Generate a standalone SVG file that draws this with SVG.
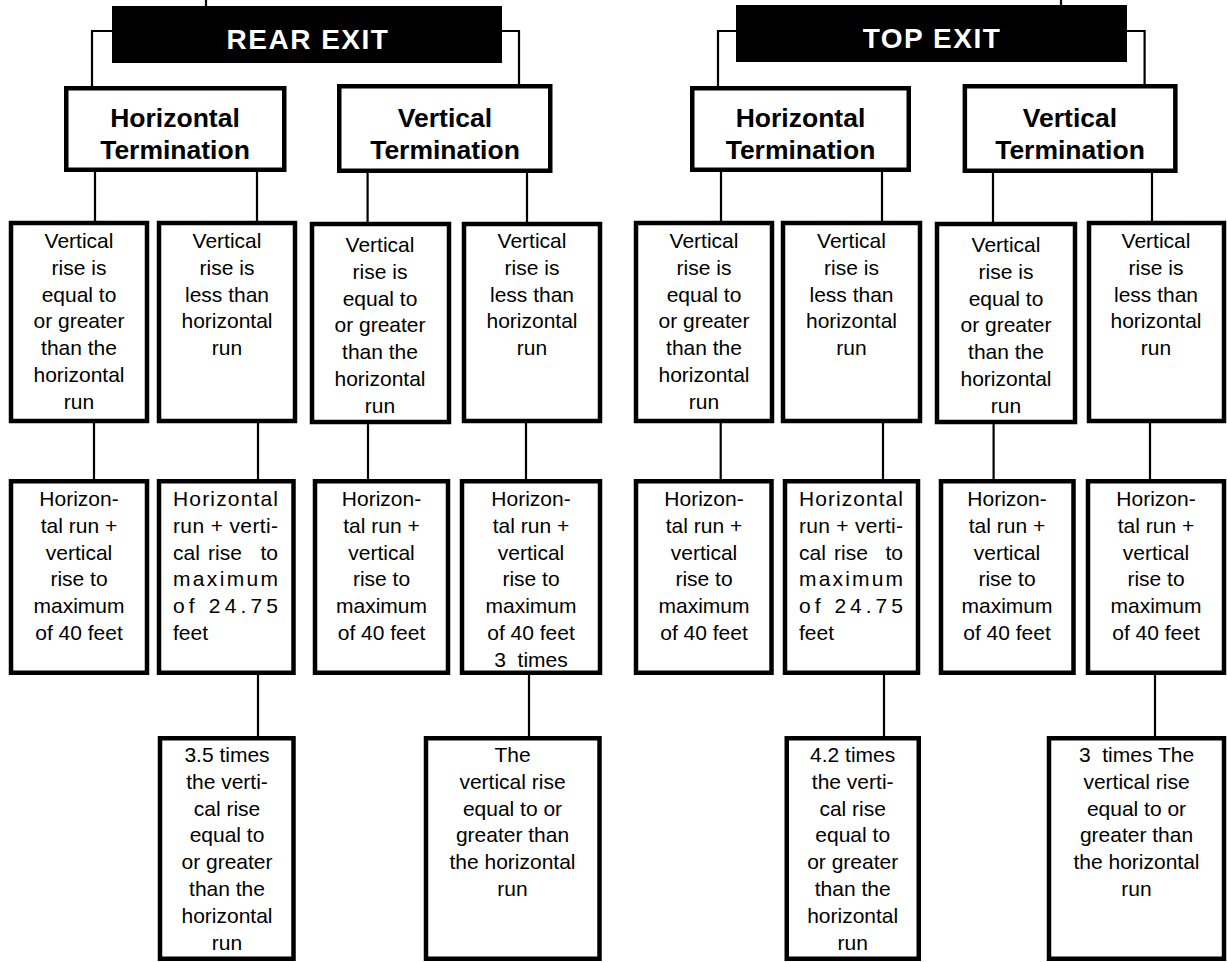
<svg xmlns="http://www.w3.org/2000/svg" width="1227" height="962" viewBox="0 0 1227 962">
<style>
.box{fill:#fff;stroke:#000;stroke-width:4.5}
.hdr{fill:#000}
.conn{stroke:#000;stroke-width:2.2;fill:none}
.t{font-family:"Liberation Sans",Arial,sans-serif;font-size:21px;text-anchor:middle;fill:#000}
.j{font-family:"Liberation Sans",Arial,sans-serif;font-size:21px;text-anchor:start;fill:#000}
.e{font-family:"Liberation Sans",Arial,sans-serif;font-size:21px;text-anchor:end;fill:#000}
.tt{font-family:"Liberation Sans",Arial,sans-serif;font-size:26.5px;font-weight:bold;text-anchor:middle;fill:#000}
.ht{font-family:"Liberation Sans",Arial,sans-serif;font-size:28px;font-weight:bold;text-anchor:middle;fill:#fff;letter-spacing:1.5px}
</style>
<rect width="1227" height="962" fill="#fff"/>
<g id="connectors">
<path class="conn" d="M206,0V7M112,31H92V87M502,31H519V85"/>
<path class="conn" d="M1061,0V6M736,31H718V87M1127,31H1144.6V85"/>
<path class="conn" d="M95,172V222M257,172V222M367.6,173V222M527,173V222"/>
<path class="conn" d="M721,172V222M882,172V222M993,173V222M1152,173V222"/>
<path class="conn" d="M94,423V480M258,423V480M368,424V480M526,423V480"/>
<path class="conn" d="M720.7,423V480M883,423V480M993.6,424V480M1150,423V480"/>
<path class="conn" d="M258,675V737M529,675V737M884,674V737M1155,674V737"/>
</g>
<g id="rear-exit">
<rect class="hdr" x="112" y="6" width="390" height="57"/>
<text class="ht" x="308" y="49">REAR EXIT</text>
</g>
<g id="top-exit">
<rect class="hdr" x="736" y="5" width="391" height="57"/>
<text class="ht" x="932" y="48">TOP EXIT</text>
</g>
<g id="rear-horizontal">
<rect class="box" x="66.25" y="88.25" width="218" height="81.5"/>
<text class="tt" x="175" y="127">Horizontal<tspan x="175" y="159">Termination</tspan></text>
</g>
<g id="rear-vertical">
<rect class="box" x="339.25" y="86.25" width="211" height="84.5"/>
<text class="tt" x="445" y="127">Vertical<tspan x="445" y="159">Termination</tspan></text>
</g>
<g id="top-horizontal">
<rect class="box" x="692.25" y="88.25" width="216.5" height="81.5"/>
<text class="tt" x="800.5" y="127">Horizontal<tspan x="800.5" y="159">Termination</tspan></text>
</g>
<g id="top-vertical">
<rect class="box" x="964.85" y="86.25" width="210.5" height="84.5"/>
<text class="tt" x="1070" y="127">Vertical<tspan x="1070" y="159">Termination</tspan></text>
</g>

<g id="b1">
<rect class="box" x="11" y="223" width="136" height="198"/>
<text class="t" x="79" y="248">Vertical<tspan x="79" dy="26.8">rise is</tspan><tspan x="79" dy="26.8">equal to</tspan><tspan x="79" dy="26.8">or greater</tspan><tspan x="79" dy="26.8">than the</tspan><tspan x="79" dy="26.8">horizontal</tspan><tspan x="79" dy="26.8">run</tspan></text>
</g>
<g id="b2">
<rect class="box" x="159" y="223" width="136" height="198"/>
<text class="t" x="227" y="248">Vertical<tspan x="227" dy="26.8">rise is</tspan><tspan x="227" dy="26.8">less than</tspan><tspan x="227" dy="26.8">horizontal</tspan><tspan x="227" dy="26.8">run</tspan></text>
</g>
<g id="b3">
<rect class="box" x="312" y="224" width="137" height="198"/>
<text class="t" x="380" y="252">Vertical<tspan x="380" dy="26.8">rise is</tspan><tspan x="380" dy="26.8">equal to</tspan><tspan x="380" dy="26.8">or greater</tspan><tspan x="380" dy="26.8">than the</tspan><tspan x="380" dy="26.8">horizontal</tspan><tspan x="380" dy="26.8">run</tspan></text>
</g>
<g id="b4">
<rect class="box" x="464" y="224" width="136" height="197"/>
<text class="t" x="532" y="248">Vertical<tspan x="532" dy="26.8">rise is</tspan><tspan x="532" dy="26.8">less than</tspan><tspan x="532" dy="26.8">horizontal</tspan><tspan x="532" dy="26.8">run</tspan></text>
</g>
<g id="b5">
<rect class="box" x="636" y="223" width="136" height="198"/>
<text class="t" x="704" y="248">Vertical<tspan x="704" dy="26.8">rise is</tspan><tspan x="704" dy="26.8">equal to</tspan><tspan x="704" dy="26.8">or greater</tspan><tspan x="704" dy="26.8">than the</tspan><tspan x="704" dy="26.8">horizontal</tspan><tspan x="704" dy="26.8">run</tspan></text>
</g>
<g id="b6">
<rect class="box" x="783" y="223" width="137" height="198"/>
<text class="t" x="851.5" y="248">Vertical<tspan x="851.5" dy="26.8">rise is</tspan><tspan x="851.5" dy="26.8">less than</tspan><tspan x="851.5" dy="26.8">horizontal</tspan><tspan x="851.5" dy="26.8">run</tspan></text>
</g>
<g id="b7">
<rect class="box" x="937" y="224" width="138" height="198"/>
<text class="t" x="1006" y="252">Vertical<tspan x="1006" dy="26.8">rise is</tspan><tspan x="1006" dy="26.8">equal to</tspan><tspan x="1006" dy="26.8">or greater</tspan><tspan x="1006" dy="26.8">than the</tspan><tspan x="1006" dy="26.8">horizontal</tspan><tspan x="1006" dy="26.8">run</tspan></text>
</g>
<g id="b8">
<rect class="box" x="1089" y="223" width="135" height="198"/>
<text class="t" x="1156" y="248">Vertical<tspan x="1156" dy="26.8">rise is</tspan><tspan x="1156" dy="26.8">less than</tspan><tspan x="1156" dy="26.8">horizontal</tspan><tspan x="1156" dy="26.8">run</tspan></text>
</g>

<g id="c1">
<rect class="box" x="11" y="481.25" width="136" height="191.5"/>
<text class="t" x="79" y="506">Horizon-<tspan x="79" dy="26.8">tal run +</tspan><tspan x="79" dy="26.8">vertical</tspan><tspan x="79" dy="26.8">rise to</tspan><tspan x="79" dy="26.8">maximum</tspan><tspan x="79" dy="26.8">of 40 feet</tspan></text>
</g>
<g id="c2">
<rect class="box" x="159" y="481.25" width="134.5" height="191.5"/>
<text class="j" x="173" y="506" textLength="105" lengthAdjust="spacing">Horizontal</text>
<text class="j" x="173" y="532.8" textLength="105" lengthAdjust="spacing">run + verti-</text>
<text class="j" x="173" y="559.6">cal</text>
<text class="j" x="208" y="559.6">rise</text>
<text class="e" x="278" y="559.6">to</text>
<text class="j" x="173" y="586.4" textLength="105" lengthAdjust="spacing">maximum</text>
<text class="j" x="173" y="613.2" textLength="105" lengthAdjust="spacing">of 24.75</text>
<text class="j" x="173" y="640">feet</text>
</g>
<g id="c3">
<rect class="box" x="315" y="481.25" width="133" height="191.5"/>
<text class="t" x="381.5" y="506">Horizon-<tspan x="381.5" dy="26.8">tal run +</tspan><tspan x="381.5" dy="26.8">vertical</tspan><tspan x="381.5" dy="26.8">rise to</tspan><tspan x="381.5" dy="26.8">maximum</tspan><tspan x="381.5" dy="26.8">of 40 feet</tspan></text>
</g>
<g id="c4">
<rect class="box" x="462" y="481.25" width="138" height="191.5"/>
<text class="t" x="531" y="506" xml:space="preserve">Horizon-<tspan x="531" dy="26.8">tal run +</tspan><tspan x="531" dy="26.8">vertical</tspan><tspan x="531" dy="26.8">rise to</tspan><tspan x="531" dy="26.8">maximum</tspan><tspan x="531" dy="26.8">of 40 feet</tspan><tspan x="531" dy="26.8">3  times</tspan></text>
</g>
<g id="c5">
<rect class="box" x="636" y="481.25" width="135.5" height="191.5"/>
<text class="t" x="704" y="506">Horizon-<tspan x="704" dy="26.8">tal run +</tspan><tspan x="704" dy="26.8">vertical</tspan><tspan x="704" dy="26.8">rise to</tspan><tspan x="704" dy="26.8">maximum</tspan><tspan x="704" dy="26.8">of 40 feet</tspan></text>
</g>
<g id="c6">
<rect class="box" x="785" y="481.25" width="133" height="191.5"/>
<text class="j" x="799" y="506" textLength="104" lengthAdjust="spacing">Horizontal</text>
<text class="j" x="799" y="532.8" textLength="104" lengthAdjust="spacing">run + verti-</text>
<text class="j" x="799" y="559.6">cal</text>
<text class="j" x="834" y="559.6">rise</text>
<text class="e" x="903" y="559.6">to</text>
<text class="j" x="799" y="586.4" textLength="104" lengthAdjust="spacing">maximum</text>
<text class="j" x="799" y="613.2" textLength="104" lengthAdjust="spacing">of 24.75</text>
<text class="j" x="799" y="640">feet</text>
</g>
<g id="c7">
<rect class="box" x="941" y="481.25" width="132.5" height="191.5"/>
<text class="t" x="1007" y="506">Horizon-<tspan x="1007" dy="26.8">tal run +</tspan><tspan x="1007" dy="26.8">vertical</tspan><tspan x="1007" dy="26.8">rise to</tspan><tspan x="1007" dy="26.8">maximum</tspan><tspan x="1007" dy="26.8">of 40 feet</tspan></text>
</g>
<g id="c8">
<rect class="box" x="1088" y="481.25" width="136" height="191.5"/>
<text class="t" x="1156" y="506">Horizon-<tspan x="1156" dy="26.8">tal run +</tspan><tspan x="1156" dy="26.8">vertical</tspan><tspan x="1156" dy="26.8">rise to</tspan><tspan x="1156" dy="26.8">maximum</tspan><tspan x="1156" dy="26.8">of 40 feet</tspan></text>
</g>

<g id="d1">
<rect class="box" x="160" y="738.25" width="133.5" height="220.5"/>
<text class="t" x="227" y="762">3.5 times<tspan x="227" dy="26.8">the verti-</tspan><tspan x="227" dy="26.8">cal rise</tspan><tspan x="227" dy="26.8">equal to</tspan><tspan x="227" dy="26.8">or greater</tspan><tspan x="227" dy="26.8">than the</tspan><tspan x="227" dy="26.8">horizontal</tspan><tspan x="227" dy="26.8">run</tspan></text>
</g>
<g id="d2">
<rect class="box" x="426" y="738.25" width="173.5" height="220.5"/>
<text class="t" x="512.5" y="762">The<tspan x="512.5" dy="26.8">vertical rise</tspan><tspan x="512.5" dy="26.8">equal to or</tspan><tspan x="512.5" dy="26.8">greater than</tspan><tspan x="512.5" dy="26.8">the horizontal</tspan><tspan x="512.5" dy="26.8">run</tspan></text>
</g>
<g id="d3">
<rect class="box" x="786.75" y="738.25" width="132" height="220.5"/>
<text class="t" x="852.7" y="762">4.2 times<tspan x="852.7" dy="26.8">the verti-</tspan><tspan x="852.7" dy="26.8">cal rise</tspan><tspan x="852.7" dy="26.8">equal to</tspan><tspan x="852.7" dy="26.8">or greater</tspan><tspan x="852.7" dy="26.8">than the</tspan><tspan x="852.7" dy="26.8">horizontal</tspan><tspan x="852.7" dy="26.8">run</tspan></text>
</g>
<g id="d4">
<rect class="box" x="1049" y="738.25" width="175" height="220.5"/>
<text class="t" x="1136.5" y="762" xml:space="preserve">3  times The<tspan x="1136.5" dy="26.8">vertical rise</tspan><tspan x="1136.5" dy="26.8">equal to or</tspan><tspan x="1136.5" dy="26.8">greater than</tspan><tspan x="1136.5" dy="26.8">the horizontal</tspan><tspan x="1136.5" dy="26.8">run</tspan></text>
</g>
</svg>
